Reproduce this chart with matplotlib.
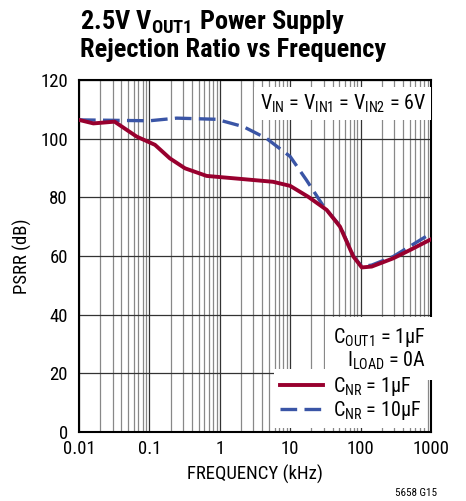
import numpy as np
import matplotlib
matplotlib.use('Agg')
from matplotlib import pyplot as plt
from matplotlib.ticker import FixedLocator, NullFormatter

plt.rcParams['font.family'] = ['Roboto Condensed', 'DejaVu Sans']
plt.rcParams['mathtext.fontset'] = 'custom'
plt.rcParams['mathtext.rm'] = 'Roboto Condensed'
plt.rcParams['mathtext.bf'] = 'Roboto Condensed:bold'

# data
freq_1uf = [0.01, 0.016, 0.032, 0.066, 0.12, 0.195, 0.32, 0.65, 1.94, 5.7, 10,
            18, 33, 51, 79, 104, 144, 290, 500, 1000]
psrr_1uf = [106.4, 105.2, 105.8, 100.7, 97.9, 93.3, 89.9, 87.3, 86.3, 85.3, 83.9,
            80.2, 75.7, 70.0, 59.8, 56.1, 56.4, 59.2, 62.0, 65.7]
freq_10uf = [0.01, 0.1, 0.244, 0.9, 2.16, 4.6, 10, 17, 30, 51, 79, 104, 144, 290, 1000]
psrr_10uf = [106.4, 106.1, 107.0, 106.6, 104.1, 100.1, 93.9, 85.9, 76.8, 70.3, 60.0,
             56.4, 56.9, 59.8, 67.7]

red = '#98002E'
blue = '#3A55A6'

fig = plt.figure(figsize=(4.66, 5.01), dpi=100)
ax = fig.add_axes([79 / 466, 1 - 432 / 501, 352 / 466, 352 / 501])

ax.set_xscale('log')
ax.set_xlim(0.01, 1000)
ax.set_ylim(0, 120)

minors = [m * 10.0 ** e for e in range(-2, 3) for m in range(2, 10)]
ax.xaxis.set_minor_locator(FixedLocator(minors))
ax.xaxis.set_minor_formatter(NullFormatter())
ax.set_xticks([0.01, 0.1, 1, 10, 100, 1000])
ax.set_xticklabels(['0.01', '0.1', '1', '10', '100', '1000'])
ax.set_yticks(range(0, 121, 20))
ax.grid(True, which='major', axis='both', color='#333333', lw=0.9)
ax.grid(True, which='minor', axis='x', color='#888888', lw=0.9)
ax.tick_params(which='both', length=0, labelsize=13.5, pad=6)
ax.tick_params(axis='y', pad=8)
for s in ax.spines.values():
    s.set_linewidth(1.5)

ax.plot(freq_1uf, psrr_1uf, color=red, lw=2.8, label='C$_{\\mathrm{NR}}$ = 1µF', zorder=4)
ax.plot(freq_10uf, psrr_10uf, color=blue, lw=2.4, ls=(0, (5, 2.2)),
        label='C$_{\\mathrm{NR}}$ = 10µF', zorder=3)

ax.text(0.985, 0.965, 'V$_{\\mathrm{IN}}$ = V$_{\\mathrm{IN1}}$ = V$_{\\mathrm{IN2}}$ = 6V',
        transform=ax.transAxes, ha='right', va='top', fontsize=14.5, zorder=5,
        bbox=dict(facecolor='white', edgecolor='none', pad=4))
ax.text(0.985, 0.3, 'C$_{\\mathrm{OUT1}}$ = 1µF\nI$_{\\mathrm{LOAD}}$ = 0A',
        transform=ax.transAxes, ha='right', va='top', fontsize=14.5, zorder=5,
        linespacing=1.0, bbox=dict(facecolor='white', edgecolor='none', pad=6))

leg = ax.legend(loc='lower right', fontsize=14.5, frameon=True, fancybox=False,
                handlelength=2.1, handletextpad=0.5, borderaxespad=0.2,
                labelspacing=0.05, borderpad=0.3)
leg.get_frame().set_edgecolor('none')
leg.get_frame().set_alpha(1)
leg.set_zorder(6)

ax.set_xlabel('FREQUENCY (kHz)', fontsize=13.5, labelpad=5)
ax.set_ylabel('PSRR (dB)', fontsize=13.5, labelpad=6)

fig.text(80 / 466, 1 - 8 / 501,
         '2.5V V$_{\\mathbf{OUT1}}$ Power Supply\nRejection Ratio vs Frequency',
         ha='left', va='top', fontsize=19, fontweight='bold', linespacing=1.12)
fig.text(437 / 466, 1 - 493 / 501, '5658 G15', ha='right', va='center', fontsize=8)

plt.savefig('out.png', dpi=100)
